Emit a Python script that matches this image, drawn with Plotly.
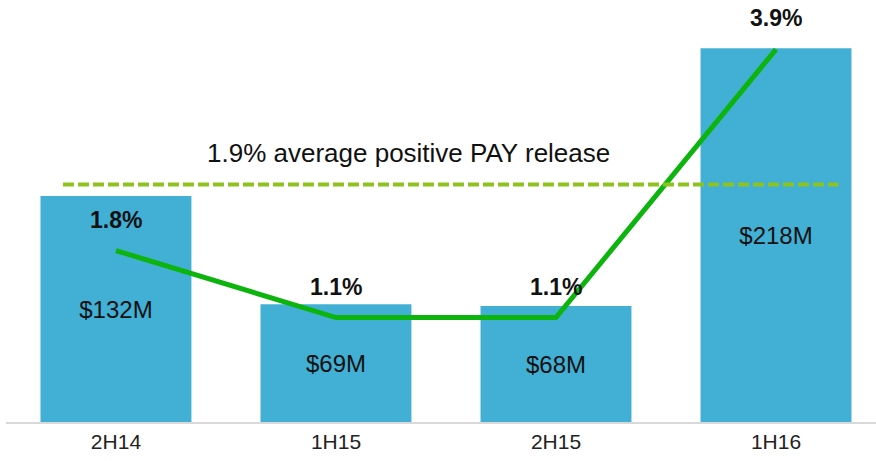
import plotly.graph_objects as go

categories = ["2H14", "1H15", "2H15", "1H16"]
release_musd = [132, 69, 68, 218]
release_labels = ["$132M", "$69M", "$68M", "$218M"]
release_pct = [1.8, 1.1, 1.1, 3.9]
pct_labels = ["1.8%", "1.1%", "1.1%", "3.9%"]
avg_label = "1.9% average positive PAY release"

FONT = "Liberation Sans, Arial, sans-serif"

fig = go.Figure()
fig.add_trace(go.Bar(
    x=categories, y=release_musd, text=release_labels,
    textposition="inside", insidetextanchor="middle",
    textfont=dict(family=FONT, size=24, color="#111111"),
    marker=dict(color="#41B0D4", line=dict(width=0)),
    width=0.686, cliponaxis=False, showlegend=False, hoverinfo="skip",
))
fig.add_trace(go.Scatter(
    x=categories, y=release_pct, yaxis="y2", mode="lines",
    line=dict(color="#0DB40D", width=5), showlegend=False, hoverinfo="skip",
))

for c, p, lab in zip(categories, release_pct, pct_labels):
    fig.add_annotation(x=c, y=p, xref="x", yref="y2", text="<b>%s</b>" % lab,
                       showarrow=False, yshift=31,
                       font=dict(family=FONT, size=23, color="#111111"))

# average reference line and label
fig.add_shape(type="line", xref="paper", yref="paper",
              x0=0.0719, x1=0.957, y0=0.5638, y1=0.5638,
              line=dict(color="#8DC21F", width=4, dash="11px,4px"))
fig.add_annotation(x=0.466, y=0.638, xref="paper", yref="paper", text=avg_label,
                   showarrow=False, font=dict(family=FONT, size=26, color="#111111"))

# baseline
fig.add_shape(type="line", xref="x", yref="paper", x0=-0.5, x1=3.6, y0=0, y1=0,
              line=dict(color="#D9D9D9", width=2), layer="above")

fig.update_layout(
    width=876, height=461,
    margin=dict(l=0, r=0, t=0, b=38),
    paper_bgcolor="white", plot_bgcolor="white",
    bargap=0.3,
    xaxis=dict(type="category", range=[-0.527, 3.4545], showgrid=False,
               showline=False, zeroline=False, ticks="", ticklabelstandoff=4,
               tickfont=dict(family=FONT, size=21, color="#222222")),
    yaxis=dict(range=[0, 246], visible=False, showgrid=False, zeroline=False),
    yaxis2=dict(range=[0, 4.415], overlaying="y", visible=False,
                showgrid=False, zeroline=False),
)

fig.write_html("out.html", config={"displayModeBar": False},
               post_script="document.body.style.margin='0';")
